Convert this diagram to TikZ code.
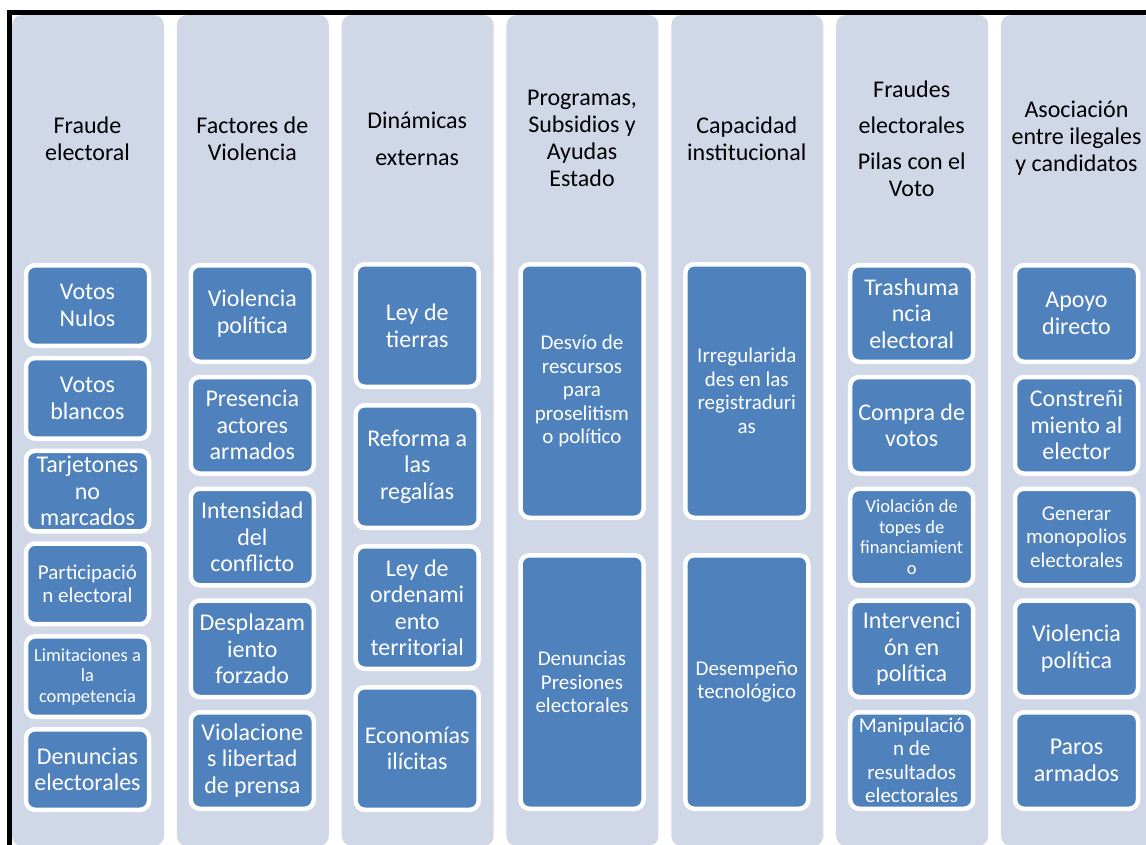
\documentclass[tikz,border=0pt]{standalone}
\usepackage{fontspec}
\setmainfont{Carlito}
\usetikzlibrary{positioning}
\definecolor{colfondo}{RGB}{208,216,232}
\definecolor{azulcaja}{RGB}{79,129,189}

\begin{document}
\begin{tikzpicture}[%
x=1pt, y=-1pt,
on grid,
caja/.style={rectangle, rounded corners=9pt, fill=azulcaja, draw=white, line width=4.5pt,
  minimum width=123pt, minimum height=#1, inner sep=2pt, align=center, text=white,
  font=\fontsize{24}{26.5}\selectfont},
chica/.style={font=\fontsize{21}{23.5}\selectfont},
mini/.style={font=\fontsize{18.5}{20.5}\selectfont},
titulo/.style={align=center, font=\fontsize{24}{27}\selectfont}
]
\fill[white] (0,0) rectangle (1146,844);
\useasboundingbox (0,0) rectangle (1146,844);
\foreach \i in {0,...,6}
  \fill[colfondo, rounded corners=10pt] (12+164.83*\i,15) rectangle ++(152,831);
\draw[line width=5pt] (9.5,850) -- (9.5,12.5) -- (1150,12.5);

\node[titulo] (tf) at (87.5,138.5) {Fraude\\electoral};
\node[titulo] (tv) at (252.3,138.5) {Factores de\\Violencia};
\node[titulo] (td) at (417.2,138.5) {Dinámicas\\[10pt]externas};
\node[titulo] (tp) at (582,138.5) {Programas,\\Subsidios y\\Ayudas\\Estado};
\node[titulo] (tc) at (746.8,138.5) {Capacidad\\institucional};
\node[titulo] (te) at (911.7,138.5) {Fraudes\\[9pt]electorales\\[9pt]Pilas con el\\Voto};
\node[titulo] (ta) at (1076.5,138.5) {Asociación\\entre ilegales\\y candidatos};

\node[caja=80.5pt] (f1) at (87.5,305.5) {Votos\\Nulos};
\node[caja=80.5pt] (f2) [below=92.8pt of f1] {Votos\\blancos};
\node[caja=80.5pt] (f3) [below=92.8pt of f2] {Tarjetones\\no\\marcados};
\node[caja=80.5pt, chica] (f4) [below=92.8pt of f3] {Participació\\n electoral};
\node[caja=80.5pt, mini] (f5) [below=92.8pt of f4] {Limitaciones a\\la\\competencia};
\node[caja=80.5pt] (f6) [below=92.8pt of f5] {Denuncias\\electorales};

\node[caja=96.5pt] (v1) at (252.3,313.5) {Violencia\\política};
\node[caja=96.5pt] (v2) [below=111.75pt of v1] {Presencia\\actores\\armados};
\node[caja=96.5pt] (v3) [below=111.75pt of v2] {Intensidad\\del\\conflicto};
\node[caja=96.5pt] (v4) [below=111.75pt of v3] {Desplazam\\iento\\forzado};
\node[caja=96.5pt] (v5) [below=111.75pt of v4] {Violacione\\s libertad\\de prensa};

\node[caja=122.5pt] (d1) at (417.2,325.5) {Ley de\\tierras};
\node[caja=122.5pt] (d2) [below=141pt of d1] {Reforma a\\las\\regalías};
\node[caja=122.5pt] (d3) [below=141pt of d2] {Ley de\\ordenami\\ento\\territorial};
\node[caja=122.5pt] (d4) [below=141pt of d3] {Economías\\ilícitas};

\node[caja=253.5pt, chica] (p1) at (582,391) {Desvío de\\rescursos\\para\\proselitism\\o político};
\node[caja=253.5pt, chica] (p2) [below=291pt of p1] {Denuncias\\Presiones\\electorales};

\node[caja=253.5pt, chica] (c1) at (746.8,391) {Irregularida\\des en las\\registraduri\\as};
\node[caja=253.5pt, chica] (c2) [below=291pt of c1] {Desempeño\\tecnológico};

\node[caja=96.5pt] (e1) at (911.7,313.5) {Trashuma\\ncia\\electoral};
\node[caja=96.5pt] (e2) [below=111.75pt of e1] {Compra de\\votos};
\node[caja=96.5pt, mini] (e3) [below=111.75pt of e2] {Violación de\\topes de\\financiamient\\o};
\node[caja=96.5pt] (e4) [below=111.75pt of e3] {Intervenci\\ón en\\política};
\node[caja=96.5pt, chica] (e5) [below=111.75pt of e4] {Manipulació\\n de\\resultados\\electorales};

\node[caja=96.5pt] (a1) at (1076.5,313.5) {Apoyo\\directo};
\node[caja=96.5pt] (a2) [below=111.75pt of a1] {Constreñi\\miento al\\elector};
\node[caja=96.5pt, chica] (a3) [below=111.75pt of a2] {Generar\\monopolios\\electorales};
\node[caja=96.5pt] (a4) [below=111.75pt of a3] {Violencia\\política};
\node[caja=96.5pt] (a5) [below=111.75pt of a4] {Paros\\armados};
\end{tikzpicture}
\end{document}
